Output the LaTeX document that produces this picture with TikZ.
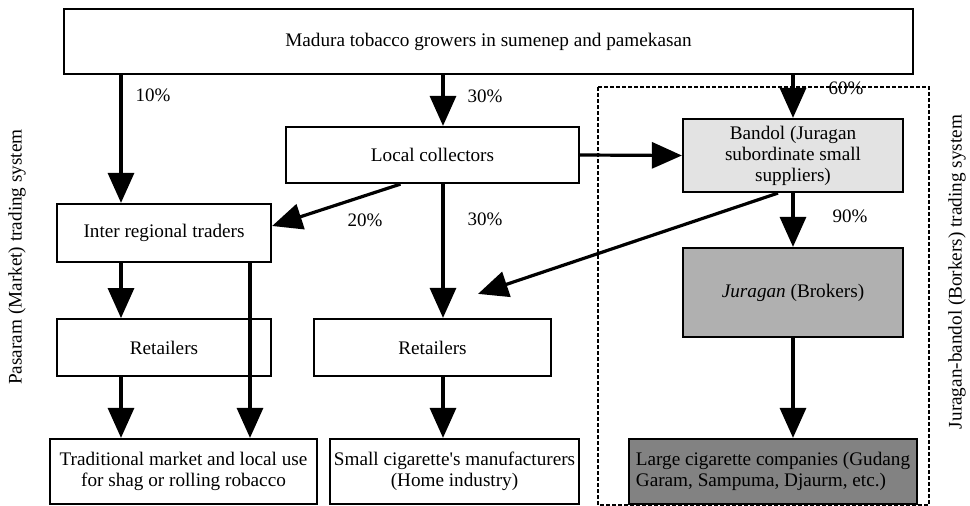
\documentclass[tikz,border=0pt]{standalone}
\usepackage{fontspec}
\setmainfont{Liberation Serif}
\newfontfamily\diagfont{Liberation Serif}
\usepackage{tikz}
\usetikzlibrary{positioning, arrows.meta}
\definecolor{bandolFill}{HTML}{E3E3E3}
\definecolor{juraganFill}{HTML}{B0B0B0}
\definecolor{largeFill}{HTML}{828282}

\begin{document}
\begin{tikzpicture}[x=1pt, y=-1pt,
  every node/.style={font=\diagfont\fontsize{19.2}{21}\selectfont},
  box/.style={rectangle, draw=black, line width=2.2pt, align=center, inner sep=2pt},
  flow/.style={line width=3.2pt, -{Triangle[length=30pt, width=26pt]}},
  pct/.style={font=\diagfont\fontsize{19}{21}\selectfont},
  side/.style={rotate=90, font=\diagfont\fontsize{19.2}{21}\selectfont},
  frame/.style={line width=1.3pt, dash pattern=on 4pt off 2pt},
]
  \useasboundingbox (0,0) rectangle (970,506);
  \coordinate (colA) at (121,0);
  \coordinate (colB) at (250,0);
  \coordinate (colC) at (443,0);

  % juragan-bandol frame
  \draw[frame] (598,87) rectangle (929,505);

  \node[box, minimum width=849pt, minimum height=65pt] (growers) at (488.5,41.5)
        {Madura tobacco growers in sumenep and pamekasan};
  \node[box, minimum width=293pt, minimum height=56pt] (collect) at (432.5,155) {Local collectors};
  \node[box, minimum width=214pt, minimum height=58pt] (inter) at (164,233) {Inter regional traders};
  \node[box, minimum width=214pt, minimum height=57pt, below=55pt of inter] (retL) {Retailers};
  \node[box, minimum width=237pt, minimum height=57pt] (retM) at (432.5,347.5) {Retailers};
  \node[box, minimum width=267pt, minimum height=65pt] (trad) at (183.5,471.5)
        {Traditional market and local use\\for shag or rolling robacco};
  \node[box, minimum width=249pt, minimum height=65pt] (small) at (454.5,471.5)
        {Small cigarette\textquotesingle s manufacturers\\(Home industry)};

  \node[box, fill=bandolFill, minimum width=220pt, minimum height=73pt] (bandol) at (793,155.5)
        {Bandol (Juragan\\subordinate small\\suppliers)};
  \node[box, fill=juraganFill, minimum width=220pt, minimum height=89pt] (juragan) at (793,292.5)
        {\textit{Juragan} (Brokers)};
  \node[box, fill=largeFill, align=left, minimum width=288pt, minimum height=65pt] (large) at (773,471.5)
        {Large cigarette companies (Gudang\\Garam, Sampuma, Djaurm, etc.)};

  \coordinate (toRet) at ([xshift=45.5pt, yshift=24pt]retM.north);

  % flows
  \draw[flow] (growers.south -| colA) -- (inter.north -| colA);
  \draw[flow] (growers.south -| colC) -- (collect.north -| colC);
  \draw[flow] (growers.south -| bandol.north) -- (bandol.north);
  \draw[flow] ([xshift=-32pt]collect.south) -- ([yshift=7pt]inter.east);
  \draw[flow] (collect.south -| colC) -- (retM.north -| colC);
  \draw[flow] (collect.east) -- (bandol.west);
  \draw[flow] (bandol.south) -- (juragan.north);
  \draw[flow] ([xshift=-15pt]bandol.south) -- (toRet);
  \draw[flow] (juragan.south) -- (juragan.south |- large.north);
  \draw[flow] (inter.south -| colA) -- (retL.north -| colA);
  \draw[flow] (inter.south -| colB) -- (trad.north -| colB);
  \draw[flow] (retL.south -| colA) -- (trad.north -| colA);
  \draw[flow] (retM.south -| colC) -- (small.north -| colC);

  \node[pct] (p10) at (153,95) {10\%};
  \node[pct] (p30a) at (485,96) {30\%};
  \node[pct] (p20) at (365,220) {20\%};
  \node[pct] (p30b) at (485,219) {30\%};
  \node[pct] (p60) at (846,88) {60\%};
  \node[pct] (p90) at (850,216) {90\%};

  \node[side] (pasaram) at (17,257) {Pasaram (Market) trading system};
  \node[side] (juraganSys) at (957,272) {Juragan-bandol (Borkers) trading system};
\end{tikzpicture}
\end{document}
